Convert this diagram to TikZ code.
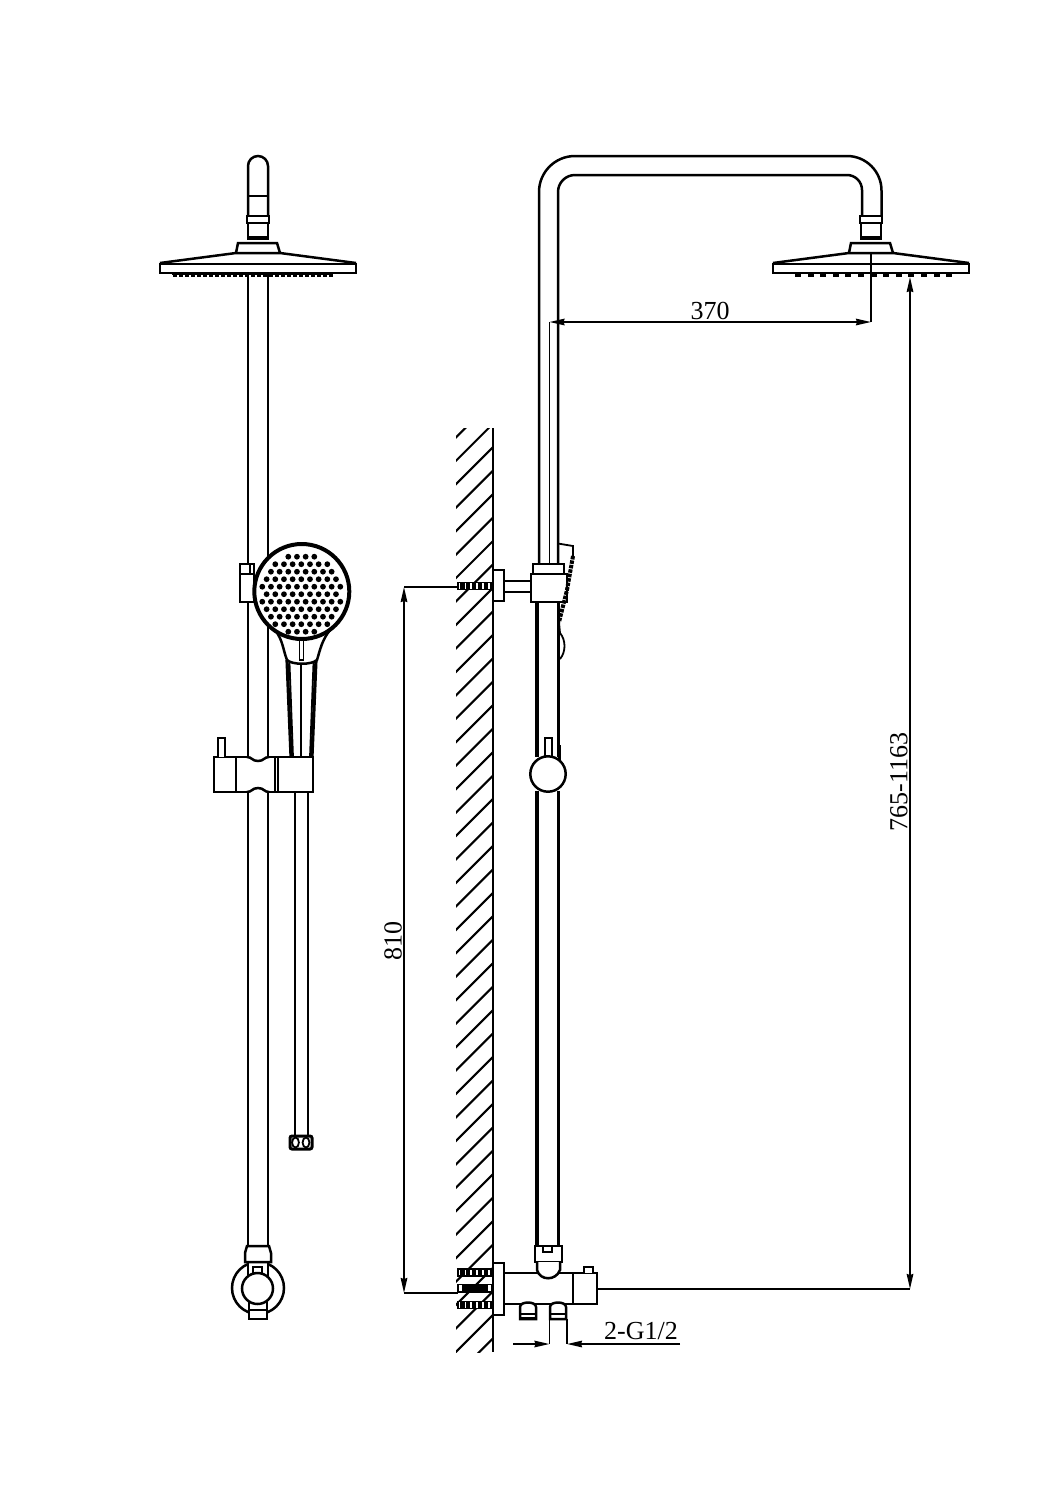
\documentclass[tikz,border=0pt]{standalone}
\usepackage{fontspec}
\setmainfont{Liberation Serif}
\usetikzlibrary{arrows.meta}
\tikzset{
  part/.style={draw=black,line width=2.5pt,line join=miter},
  partw/.style={part,fill=white},
  thin part/.style={draw=black,line width=1.8pt},
  dimline/.style={draw=black,line width=1.9pt},
  dimtip/.style={Stealth[inset=1pt,length=15pt,width=6.5pt]},
  dimarrow/.style={dimline,{Stealth[inset=1pt,length=15pt,width=6.5pt]}-{Stealth[inset=1pt,length=15pt,width=6.5pt]}},
  dimtext/.style={inner sep=0pt,font=\fontsize{26}{26}\selectfont},
  hatchline/.style={draw=black,line width=2.1pt},
  boltbody/.style={draw=black,line width=1.9pt,fill=white},
  boltthread/.style={draw=black,line width=5.5pt,dash pattern=on 4.5pt off 1.4pt},
}
\newcommand{\rainhead}[1]{%
  \begin{scope}[xshift=#1pt]
    \path[partw] (-11,216) rectangle (11,223);
    \draw[part] (-10,223) -- (-10,240) (10,223) -- (10,240);
    \draw[draw=black,line width=4.5pt] (-10,238) -- (10,238);
    \draw[part] (-22,253) -- (-20,243) -- (19,243) -- (22,253);
    \draw[part] (-98,263) -- (-22,253) -- (22,253) -- (98,263);
    \path[partw] (-98,264) rectangle (98,273);
  \end{scope}}
\begin{document}
\begin{tikzpicture}[x=1pt,y=-1pt]
\useasboundingbox[fill=white] (0,0) rectangle (1058,1497);

% ---------- left view: pipe ----------
\draw[part] (248,216) -- (248,166) arc[start angle=180,end angle=360,radius=10] -- (268,216);
\draw[thin part] (248,196) -- (268,196);
\rainhead{258}
\foreach \k in {0,...,26} {\fill (173+\k*6,273) rectangle ++(4,4.2);}
\draw[draw=black,line width=1.8pt] (172,274.5) -- (332,274.5);
\draw[part] (248,273) -- (248,1246) (268,273) -- (268,1246);

% upper clamp
\path[partw] (240,564) rectangle (254,602);
\draw[thin part] (240,574) -- (254,574) (250,564) -- (250,574);

% lower clamp
\path[partw] (214,757) rectangle (313,792);
\path[partw] (218,757) -- (218,738) -- (225,738) -- (225,757);
\draw[part] (236,757) -- (236,792) (275,757) -- (275,792);
\draw[thin part] (278,757) -- (278,792);
\draw[draw=white,line width=3.5pt] (249,757) -- (267,757) (249,792) -- (267,792);
\draw[part] (247,757) .. controls (252,757) and (252,761) .. (258,761) .. controls (264,761) and (264,757) .. (269,757);
\draw[part] (247,792) .. controls (252,792) and (252,788) .. (258,788) .. controls (264,788) and (264,792) .. (269,792);

% hose below clamp
\draw[part] (295,792) -- (295,1136) (308,792) -- (308,1136);
\path[partw,rounded corners=2pt,line width=3pt] (290,1136) rectangle (312,1149);
\draw[thin part,fill=white] (295.5,1142.5) ellipse[x radius=3.4,y radius=5];
\draw[thin part,fill=white] (306,1142.5) ellipse[x radius=3.4,y radius=5];

% hand shower (front)
\path[partw] (275,630) .. controls (283,640) and (283,650) .. (287,660)
  .. controls (292,665) and (312,665) .. (317,660)
  .. controls (320,650) and (322,640) .. (330,630) -- cycle;
\draw[draw=black,line width=3.2pt] (287,660) -- (291,757) (316,660) -- (312,757);
\draw[thin part] (289.5,663) -- (293,757) (313.5,663) -- (310,757);
\draw[part] (301,663) -- (301,757);
\draw[thin part] (299.5,634) -- (299.5,660) -- (303.5,660) -- (303.5,634);
\draw[draw=black,line width=4pt,fill=white] (301.8,591.5) circle[radius=47.5];
\foreach \i/\n in {0/4,1/7,2/8,3/9,4/10,5/9,6/10,7/9,8/8,9/7,10/4} {
  \foreach \j in {1,...,\n} {
    \fill ({301.3+8.67*(\j-(\n+1)/2)},{556.7+7.5*\i}) circle[radius=2.9];
  }
}

% bottom mount, left view
\draw[part] (258,1288) circle[radius=26];
\path[fill=white] (249,1260) rectangle (267,1275);
\path[partw] (247,1246) -- (245,1253) -- (245,1262) -- (271,1262) -- (271,1253) -- (269,1246) -- cycle;
\draw[part] (248,1262) -- (248,1276) (268,1262) -- (268,1276);
\draw[thin part] (253,1274) -- (253,1267) -- (262,1267) -- (262,1274);
\path[partw] (249,1302) rectangle (267,1319);
\draw[thin part] (249,1310) -- (267,1310);
\draw[part,fill=white] (257.5,1288.5) circle[radius=15.5];

% ---------- wall ----------
\begin{scope}
  \clip (456,428) rectangle (493,1352);
  \foreach \k in {-6,...,35} {
    \draw[hatchline] (450,{1034+23.45*\k-450}) -- (500,{1034+23.45*\k-500});
  }
\end{scope}
\draw[draw=black,line width=2.4pt] (493,428) -- (493,1352);

% ---------- right view: riser ----------
\draw[part] (539,564) -- (539,192) arc[start angle=180,end angle=270,radius=36] -- (847,156)
  arc[start angle=-90,end angle=0,radius=34.5] -- (881.5,216);
\draw[part] (558,564) -- (558,192) arc[start angle=180,end angle=270,radius=17] -- (847,175)
  arc[start angle=-90,end angle=0,radius=15] -- (862,216);
\rainhead{871}
\foreach \k in {0,...,12} {\fill (795+\k*12.6,273) rectangle ++(6,3.8);}

% sliding bracket
\path[partw] (493,570) rectangle (504,601);
\path[partw] (504,581) rectangle (531,592);
\path[partw] (533,564) rectangle (564,574);
\path[partw] (531,574) rectangle (567,602);
\draw[draw=black,line width=3.2pt] (537,602) -- (537,757);
\draw[part] (558.5,602) -- (558.5,757);
\draw[draw=black,line width=3.2pt] (559.5,745) -- (559.5,760);
% hand shower, side view
\draw[thin part] (558,543.5) -- (573,546) -- (573,556);
\draw[draw=black,line width=4pt,dash pattern=on 3.5pt off 1pt] (573,556) -- (567,590) -- (559,622);
\draw[thin part] (559,622) -- (560,633) .. controls (566,640) and (566,652) .. (560,659);
% knob and ball
\path[partw] (545,757) -- (545,738) -- (552,738) -- (552,757);
\draw[part,fill=white] (548,774) circle[radius=17.7];
\draw[draw=black,line width=3.2pt] (537,791) -- (537,1246);
\draw[part] (558.5,791) -- (558.5,1246);

% valve
\path[partw] (535,1246) rectangle (562,1262);
\draw[thin part] (543,1246) -- (543,1252) -- (552,1252) -- (552,1246);
\draw[part] (504,1273) -- (573,1273) (504,1304) -- (573,1304);
\path[partw] (537,1262) -- (537,1270) .. controls (540,1281) and (556,1281) .. (560,1270) -- (560,1262);
\path[partw] (573,1273) rectangle (597,1304);
\path[partw] (584,1273) -- (584,1267) -- (593,1267) -- (593,1273);
\path[partw] (493,1263) rectangle (504,1315);
\path[partw] (520,1319) -- (520,1307) .. controls (520,1301) and (536,1301) .. (536,1307) -- (536,1319) -- cycle;
\draw[thin part] (519,1314) -- (537,1314);
\draw[draw=black,line width=3pt] (519,1318.5) -- (537,1318.5);
\path[partw] (550,1319) -- (550,1307) .. controls (550,1301) and (566,1301) .. (566,1307) -- (566,1319) -- cycle;
\draw[thin part] (550,1314) -- (566,1314);

% bolts
\foreach \y in {586,1272.7,1305} {
  \path[boltbody] (458,\y-3.5) rectangle (492,\y+3.5);
  \draw[boltthread] (460,\y) -- (491,\y);
}
\path[boltbody] (458,1284.5) rectangle (492,1292);
\draw[draw=black,line width=6.5pt] (462,1288) -- (488,1288);

% ---------- dimensions ----------
\coordinate (ext370a) at (549.5,322);
\coordinate (ext370aEnd) at (549.5,564);
\coordinate (ext370b) at (871,322);
\coordinate (ext370bEnd) at (871,253);
\draw[dimline] (ext370a) -- (ext370aEnd);
\draw[dimline] (ext370b) -- (ext370bEnd);
\draw[dimarrow] (ext370a) -- (ext370b);
\node[dimtext] (t370) at (710,311) {370};

\coordinate (hTop) at (910,277);
\coordinate (hBot) at (910,1289);
\coordinate (hExt) at (597,1289);
\draw[dimline] (hExt) -- (hBot);
\draw[dimarrow] (hBot) -- (hTop);
\node[dimtext,rotate=90] (t765) at (899,782) {765-1163};

\coordinate (d810a) at (404,587);
\coordinate (d810b) at (404,1293);
\coordinate (d810aExt) at (458,587);
\coordinate (d810bExt) at (458,1293);
\draw[dimline] (d810a) -- (d810aExt);
\draw[dimline] (d810b) -- (d810bExt);
\draw[dimarrow] (d810a) -- (d810b);
\node[dimtext,rotate=90] (t810) at (393,941) {810};

\coordinate (gL) at (549.5,1344);
\coordinate (gR) at (567,1344);
\coordinate (gLEnd) at (513,1344);
\coordinate (gREnd) at (680,1344);
\coordinate (gLTop) at (549.5,1319);
\coordinate (gRTop) at (567,1319);
\draw[dimline] (gLTop) -- (gL);
\draw[dimline] (gRTop) -- (gR);
\draw[dimline,-{Stealth[inset=1pt,length=15pt,width=6.5pt]}] (gLEnd) -- (gL);
\draw[dimline,-{Stealth[inset=1pt,length=15pt,width=6.5pt]}] (gREnd) -- (gR);
\node[dimtext] (tg) at (641,1331) {2-G1/2};
\end{tikzpicture}
\end{document}
